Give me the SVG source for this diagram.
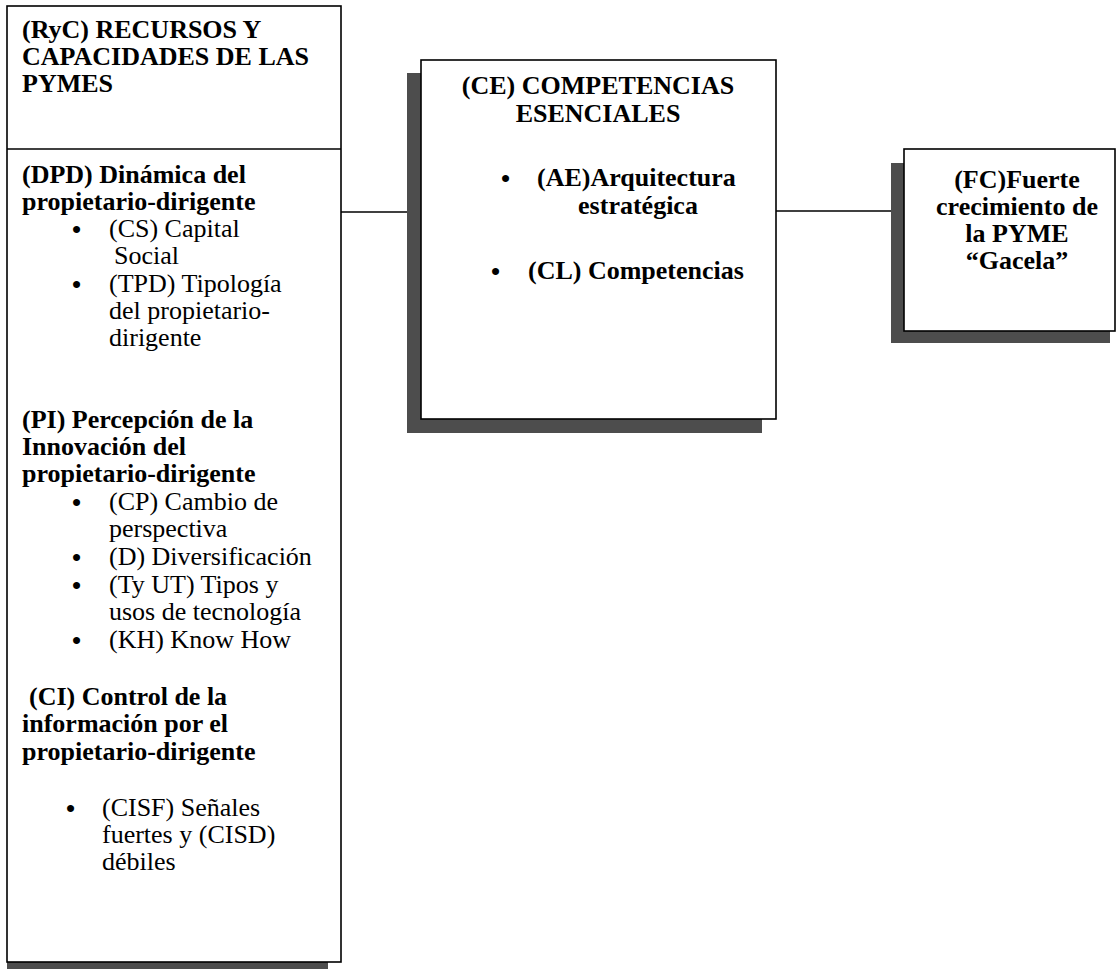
<svg xmlns="http://www.w3.org/2000/svg" width="1116" height="969" viewBox="0 0 1116 969">
<style>
.box{fill:#fff;stroke:#000;stroke-width:1.6}
.sh{fill:#4d4d4d}
.ln{stroke:#000;stroke-width:1.4;fill:none}
text{font-family:"Liberation Serif","Times New Roman",serif;font-size:26px;fill:#000}
.b{font-weight:bold}
.c{text-anchor:middle}
.bu{font-weight:bold}
</style>
<rect width="1116" height="969" fill="#fff"/>
<g id="connectors">
<line class="ln" x1="341" y1="212" x2="421" y2="212"/>
<line class="ln" x1="776" y1="211" x2="904" y2="211"/>
</g>
<g id="node-ryc">
<rect class="sh" x="7" y="962" width="321" height="7"/>
<rect class="box" x="7" y="6" width="334" height="956"/>
<line class="ln" x1="7" y1="149" x2="341" y2="149"/>
<text class="b" x="22" y="38">(RyC) RECURSOS Y</text>
<text class="b" x="22" y="65">CAPACIDADES DE LAS</text>
<text class="b" x="22" y="92">PYMES</text>
<text class="b" x="22" y="183">(DPD) Dinámica del</text>
<text class="b" x="22" y="210">propietario-dirigente</text>
<text class="bu" x="72" y="238">•</text><text x="109" y="237">(CS) Capital</text>
<text x="114" y="264">Social</text>
<text class="bu" x="72" y="293">•</text><text x="109" y="292">(TPD) Tipología</text>
<text x="109" y="319">del propietario-</text>
<text x="109" y="346">dirigente</text>
<text class="b" x="22" y="428">(PI) Percepción de la</text>
<text class="b" x="22" y="455">Innovación del</text>
<text class="b" x="22" y="482">propietario-dirigente</text>
<text class="bu" x="72" y="511">•</text><text x="109" y="510">(CP) Cambio de</text>
<text x="109" y="537">perspectiva</text>
<text class="bu" x="72" y="566">•</text><text x="109" y="565">(D) Diversificación</text>
<text class="bu" x="72" y="594">•</text><text x="109" y="593">(Ty UT) Tipos y</text>
<text x="109" y="620">usos de tecnología</text>
<text class="bu" x="72" y="649">•</text><text x="109" y="648">(KH) Know How</text>
<text class="b" x="29" y="705">(CI) Control de la</text>
<text class="b" x="22" y="732">información por el</text>
<text class="b" x="22" y="760">propietario-dirigente</text>
<text class="bu" x="66" y="817">•</text><text x="102" y="816">(CISF) Señales</text>
<text x="102" y="843">fuertes y (CISD)</text>
<text x="102" y="870">débiles</text>
</g>
<g id="node-ce">
<rect class="sh" x="407" y="73" width="355" height="360"/>
<rect class="box" x="421" y="60" width="355" height="359"/>
<text class="b c" x="598" y="94">(CE) COMPETENCIAS</text>
<text class="b c" x="598" y="122">ESENCIALES</text>
<text class="bu" x="501" y="187">•</text><text class="b" x="537" y="186">(AE)Arquitectura</text>
<text class="b c" x="638" y="214">estratégica</text>
<text class="bu" x="491" y="280">•</text><text class="b" x="528" y="279">(CL) Competencias</text>
</g>
<g id="node-fc">
<rect class="sh" x="891" y="163" width="219" height="180"/>
<rect class="box" x="904" y="149" width="211" height="182"/>
<text class="b c" x="1017" y="188">(FC)Fuerte</text>
<text class="b c" x="1017" y="215">crecimiento de</text>
<text class="b c" x="1017" y="242">la PYME</text>
<text class="b c" x="1017" y="269">“Gacela”</text>
</g>
</svg>
